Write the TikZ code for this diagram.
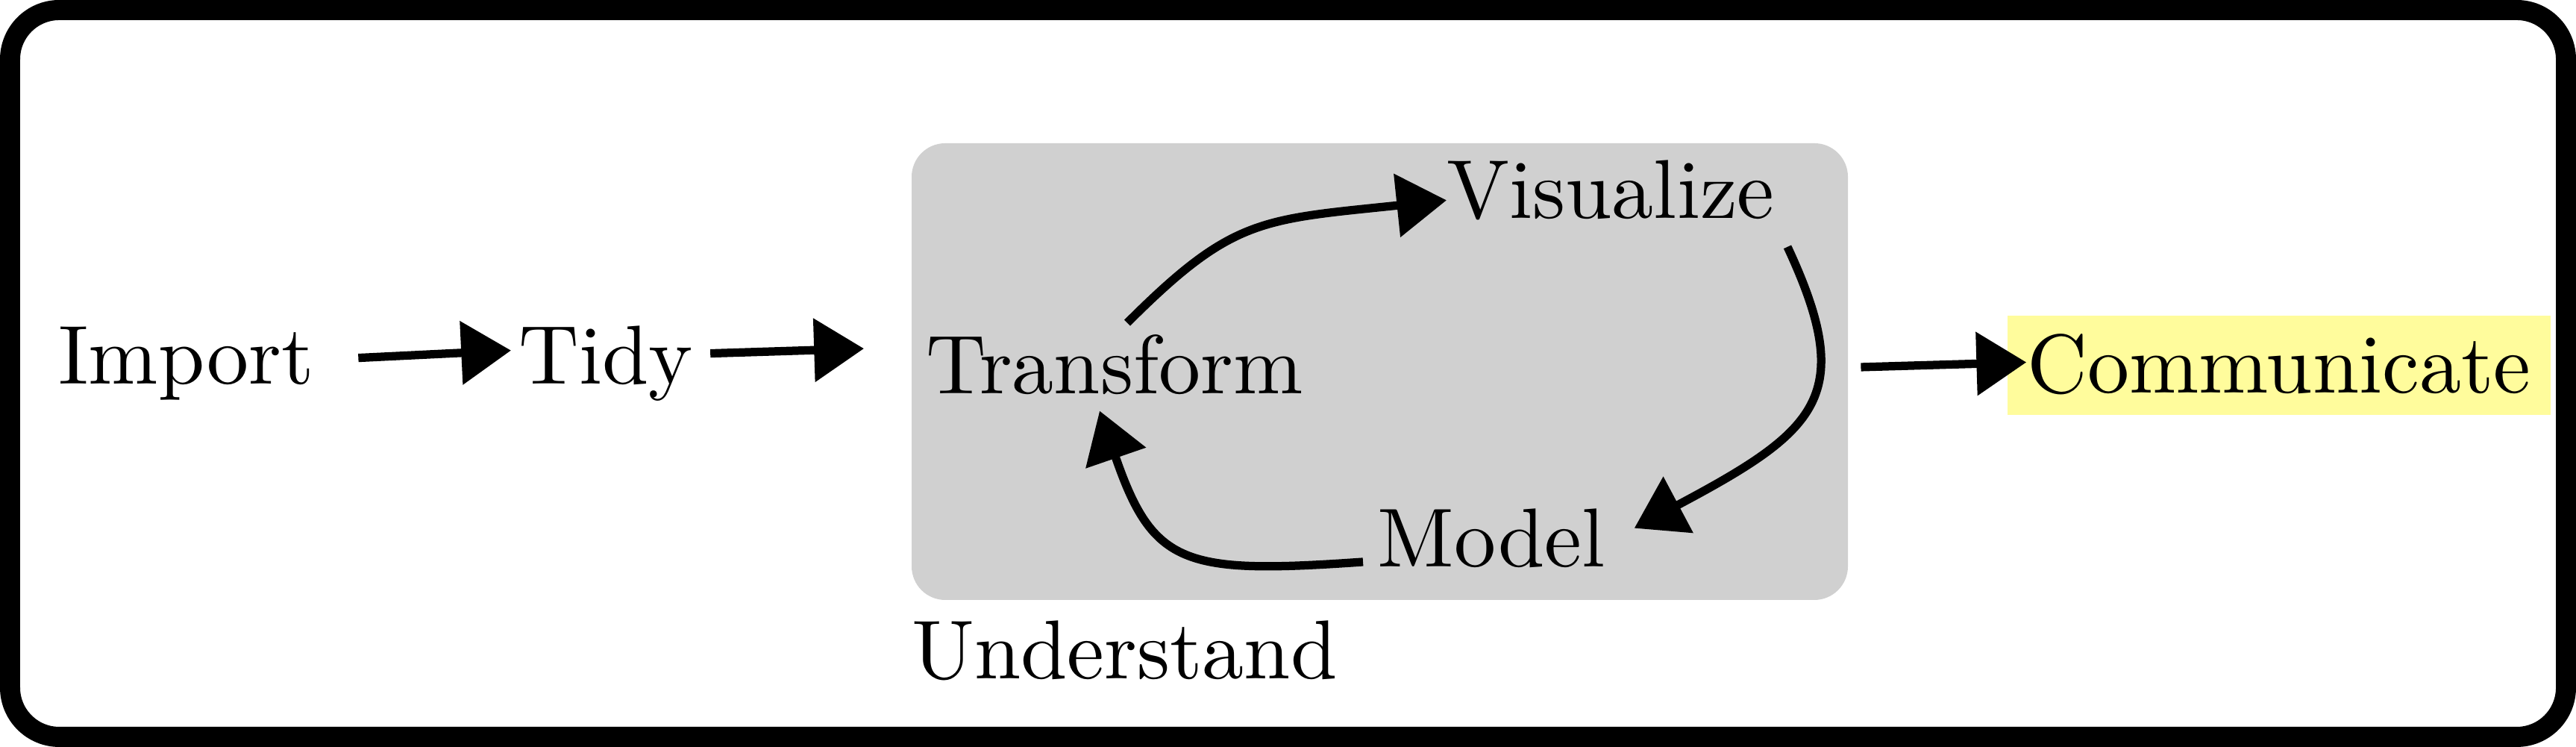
\documentclass[tikz,border=0pt]{standalone}
\usepackage{fontspec}
\usepackage{xcolor}
\usepackage{tikz}
\usetikzlibrary{positioning, calc, arrows.meta}
\newfontfamily\stagefont{lmroman10-regular}[Extension=.otf]
\definecolor{boxGray}{RGB}{208,208,208}
\definecolor{commYellow}{RGB}{255,252,156}
\tikzset{
    stage/.style={
        inner sep=0pt,
        anchor=base west,
        font=\stagefont\fontsize{15.93}{19}\selectfont
    },
    flow/.style={
        -{Triangle[length=9.5pt, width=11.8pt]},
        line width=1.6pt
    },
    understandBox/.style={
        fill=boxGray,
        rounded corners=0.225cm,
        inner sep=0pt,
        minimum width=6.275cm,
        minimum height=3.06cm
    }
}

\begin{document}
\begin{tikzpicture}
    \useasboundingbox (0,0) rectangle (17.265,5.005);
    % 1. Outer frame
    \draw[line width=3.84pt, rounded corners=0.33cm] (0.0675,0.0675) rectangle (17.1975,4.9375);

    % 2. Understand box
    \node[understandBox] (ubox) at (9.2475,2.515) {};
    \node[stage, anchor=north west] (understand) at ([yshift=-3.6pt]ubox.south west) {Understand};

    % 3. Stages
    \node[stage] (import) at (0.385,2.43) {Import};
    \node[stage] (tidy) at (3.47,2.43) {Tidy};
    \node[stage] (transform) at (6.2,2.365) {Transform};
    \node[stage] (visualize) at (9.69,3.54) {Visualize};
    \node[stage] (model) at (9.225,1.205) {Model};
    \node[stage, anchor=base, fill=commYellow, inner xsep=0.135cm, text height=0.52cm, text depth=0.145cm] (comm) at (15.275,2.37) {Communicate};

    % 4. Arrows
    \draw[flow] ([shift={(0.29,0.04)}]import.east) -- ([shift={(-0.045,0.09)}]tidy.west);
    \draw[flow] ([shift={(0.11,0.07)}]tidy.east) -- ([shift={(-0.41,0.11)}]transform.west);
    \draw[flow] ([shift={(0.085,0.075)}]transform.north) to[out=45, in=186, out distance=1cm, in distance=1.25cm] ([shift={(0.005,-0.065)}]visualize.west);
    \draw[flow] ([shift={(0.08,-0.17)}]visualize.south east) to[out=-65, in=28, out distance=1.1cm, in distance=1.4cm] ([shift={(0.19,0.07)}]model.east);
    \draw[flow] ([shift={(-0.09,0.035)}]model.base west) to[out=184, in=-71, out distance=1.2cm, in distance=1.1cm] ([shift={(-0.1,-0.1)}]transform.south);
    \draw[flow] ([shift={(0.08,0.03)}]ubox.east) -- ([shift={(0.135,0.02)}]comm.west);
\end{tikzpicture}
\end{document}
